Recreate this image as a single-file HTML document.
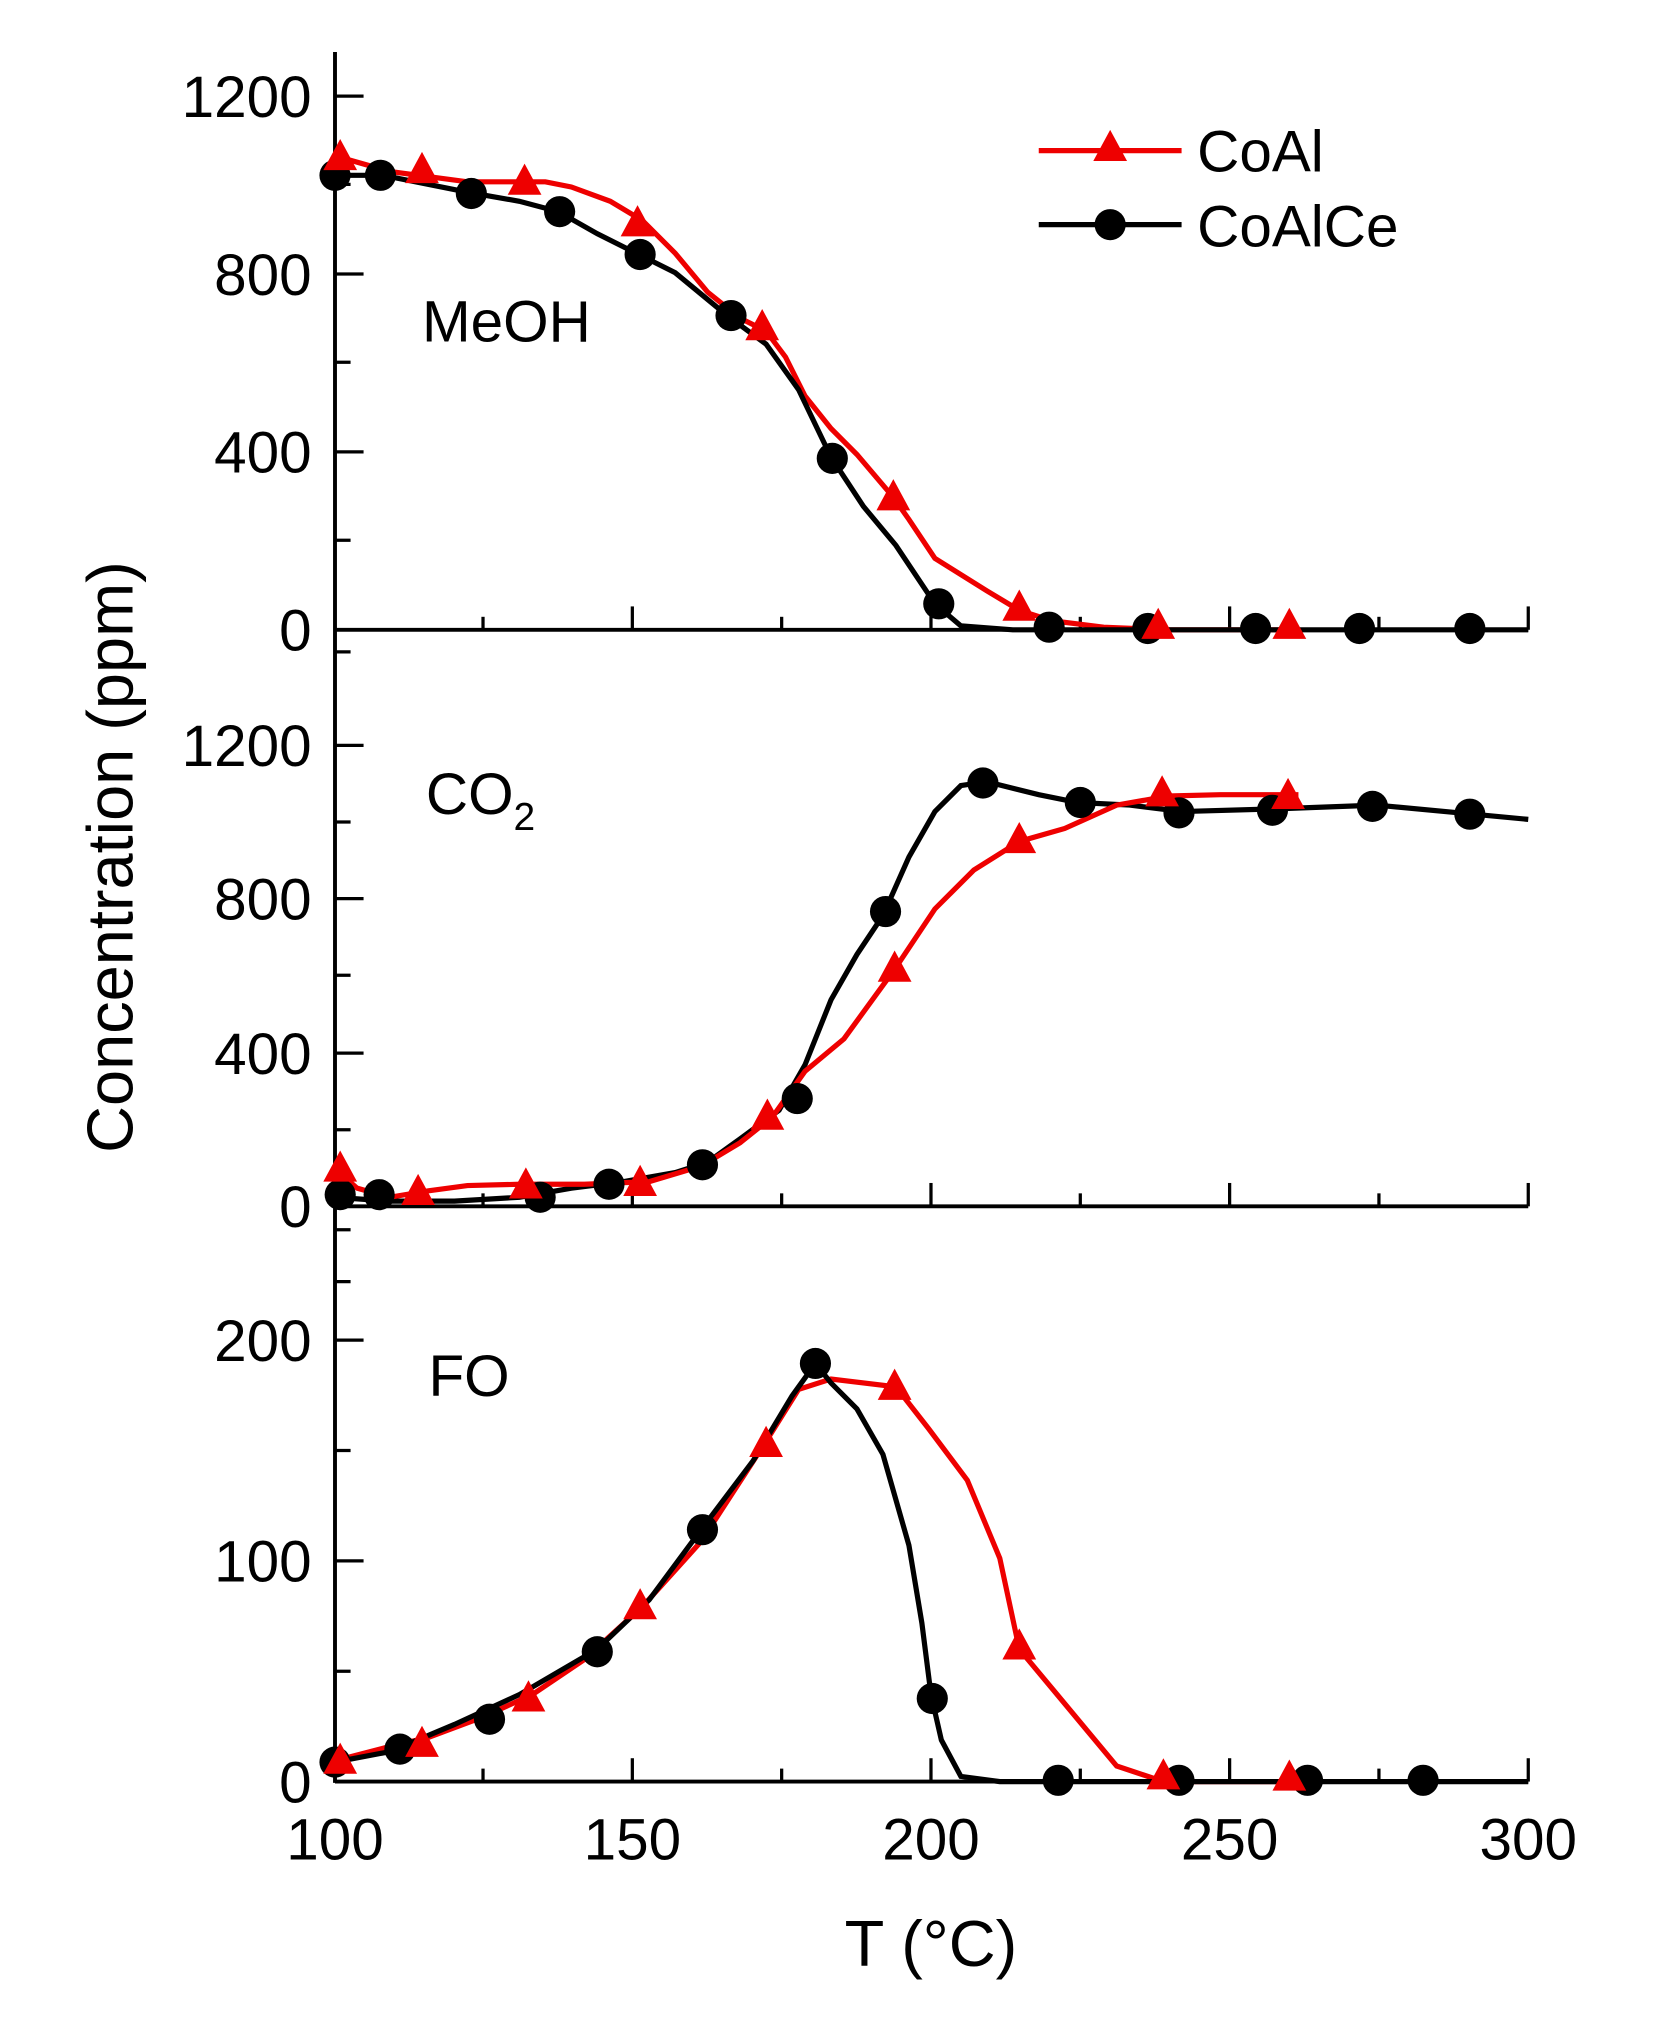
<!DOCTYPE html>
<html><head><meta charset="utf-8"><style>html,body{margin:0;padding:0;background:#fff}svg{display:block}</style></head>
<body>
<svg width="1662" height="2040" viewBox="0 0 1280 1571" preserveAspectRatio="none" xmlns="http://www.w3.org/2000/svg" font-family="Liberation Sans, sans-serif">
<rect width="1280" height="1571" fill="#fff"/>
<g stroke="#000" stroke-width="3" fill="none">
<line x1="258" y1="40" x2="258" y2="1373"/>
<line x1="258" y1="485" x2="1177" y2="485"/>
<line x1="258" y1="929" x2="1177" y2="929"/>
<line x1="258" y1="1372" x2="1177" y2="1372"/>
</g>
<g stroke="#000" stroke-width="2.5">
<line x1="258" y1="74" x2="280" y2="74"/><line x1="258" y1="142" x2="270" y2="142"/>
<line x1="258" y1="211" x2="280" y2="211"/><line x1="258" y1="279" x2="270" y2="279"/>
<line x1="258" y1="348" x2="280" y2="348"/><line x1="258" y1="416" x2="270" y2="416"/>
<line x1="258" y1="502" x2="270" y2="502"/>
<line x1="258" y1="574" x2="280" y2="574"/><line x1="258" y1="633" x2="270" y2="633"/>
<line x1="258" y1="692" x2="280" y2="692"/><line x1="258" y1="751" x2="270" y2="751"/>
<line x1="258" y1="811" x2="280" y2="811"/><line x1="258" y1="870" x2="270" y2="870"/>
<line x1="258" y1="947" x2="270" y2="947"/>
<line x1="258" y1="1032" x2="280" y2="1032"/><line x1="258" y1="1117" x2="270" y2="1117"/>
<line x1="258" y1="1202" x2="280" y2="1202"/><line x1="258" y1="1287" x2="270" y2="1287"/>
<line x1="258" y1="987" x2="270" y2="987"/>
<g id="xt">
<line x1="372" y1="485" x2="372" y2="475"/><line x1="487" y1="485" x2="487" y2="467"/>
<line x1="602" y1="485" x2="602" y2="475"/><line x1="717" y1="485" x2="717" y2="467"/>
<line x1="832" y1="485" x2="832" y2="475"/><line x1="947" y1="485" x2="947" y2="467"/>
<line x1="1062" y1="485" x2="1062" y2="475"/><line x1="1177" y1="485" x2="1177" y2="467"/>
</g>
<use href="#xt" y="444"/>
<use href="#xt" y="887"/>
</g>
<g font-size="45" fill="#000" text-anchor="end">
<text x="240" y="90">1200</text><text x="240" y="227">800</text><text x="240" y="364">400</text><text x="240" y="501">0</text>
<text x="240" y="590">1200</text><text x="240" y="708">800</text><text x="240" y="827">400</text><text x="240" y="945">0</text>
<text x="240" y="1048">200</text><text x="240" y="1218">100</text><text x="240" y="1388">0</text>
</g>
<g font-size="45" fill="#000" text-anchor="middle">
<text x="258" y="1432">100</text><text x="487" y="1432">150</text><text x="717" y="1432">200</text><text x="947" y="1432">250</text><text x="1177" y="1432">300</text>
</g>
<g font-size="50" fill="#000" text-anchor="middle">
<text x="717" y="1514">T (°C)</text>
<text transform="translate(102,660) rotate(-90)">Concentration (ppm)</text>
</g>
<text x="325" y="263" font-size="45">MeOH</text>
<text x="328" y="627" font-size="45">CO<tspan font-size="30" dy="12">2</tspan></text>
<text x="330" y="1075" font-size="45">FO</text>
<polyline fill="none" stroke="#e00" stroke-width="4" points="258,120 300,132 360,140 420,140 440,144 470,155 495,170 520,195 545,225 570,245 590,255 605,275 620,305 640,330 660,350 688,383 700,400 720,430 760,455 785,470 810,478 850,483 900,485 1000,485"/>
<polyline fill="none" stroke="#000" stroke-width="4" points="258,135 295,135 360,148 400,155 430,163 460,180 490,195 520,210 560,243 590,265 615,300 640,352 665,390 690,420 720,465 740,482 780,485 1177,485"/>
<polyline fill="none" stroke="#000" stroke-width="4" points="258,922 300,925 350,925 400,922 440,915 480,910 520,903 545,895 570,877 600,855 620,820 640,770 660,735 680,705 700,660 720,625 740,605 760,602 800,612 830,618 870,620 910,625 980,623 1060,620 1177,631"/>
<polyline fill="none" stroke="#e00" stroke-width="4" points="258,900 275,915 300,922 330,917 360,913 400,912 450,912 500,910 540,898 570,880 595,860 620,825 650,800 690,745 720,700 750,670 785,648 820,638 860,620 900,613 940,612 1000,612"/>
<polyline fill="none" stroke="#e00" stroke-width="4" points="258,1356 300,1345 330,1338 370,1323 410,1305 450,1278 495,1237 540,1187 590,1110 615,1070 640,1062 690,1068 715,1100 745,1140 770,1200 785,1270 810,1300 835,1330 860,1360 890,1370 920,1372 1000,1372"/>
<polyline fill="none" stroke="#000" stroke-width="4" points="258,1357 300,1349 350,1328 400,1305 460,1270 500,1232 540,1178 580,1125 610,1075 628,1050 640,1065 660,1085 680,1120 700,1190 710,1250 717,1305 725,1340 740,1368 770,1372 1177,1372"/>
<g fill="#000">
<circle cx="258" cy="135" r="12"/><circle cx="293" cy="135" r="12"/><circle cx="363" cy="149" r="12"/><circle cx="431" cy="163" r="12"/><circle cx="493" cy="196" r="12"/><circle cx="563" cy="243" r="12"/><circle cx="641" cy="353" r="12"/><circle cx="723" cy="465" r="12"/><circle cx="808" cy="483" r="12"/><circle cx="884" cy="484" r="12"/><circle cx="967" cy="484" r="12"/><circle cx="1047" cy="484" r="12"/><circle cx="1132" cy="484" r="12"/>
<circle cx="262" cy="920" r="12"/><circle cx="292" cy="920" r="12"/><circle cx="416" cy="922" r="12"/><circle cx="469" cy="912" r="12"/><circle cx="541" cy="897" r="12"/><circle cx="614" cy="846" r="12"/><circle cx="682" cy="702" r="12"/><circle cx="757" cy="603" r="12"/><circle cx="832" cy="618" r="12"/><circle cx="908" cy="626" r="12"/><circle cx="980" cy="624" r="12"/><circle cx="1057" cy="621" r="12"/><circle cx="1132" cy="627" r="12"/>
<circle cx="258" cy="1357" r="12"/><circle cx="308" cy="1347" r="12"/><circle cx="377" cy="1324" r="12"/><circle cx="460" cy="1272" r="12"/><circle cx="541" cy="1178" r="12"/><circle cx="628" cy="1050" r="12"/><circle cx="718" cy="1308" r="12"/><circle cx="815" cy="1371" r="12"/><circle cx="908" cy="1371" r="12"/><circle cx="1007" cy="1371" r="12"/><circle cx="1096" cy="1371" r="12"/>
<circle cx="855" cy="173" r="12"/>
</g>
<defs><path id="tri" d="M0,-14 L13,10 L-13,10 Z" fill="#e00"/></defs>
<g>
<use href="#tri" x="262" y="121"/><use href="#tri" x="325" y="131"/><use href="#tri" x="404" y="140"/><use href="#tri" x="491" y="172"/><use href="#tri" x="587" y="252"/><use href="#tri" x="688" y="383"/><use href="#tri" x="785" y="468"/><use href="#tri" x="892" y="482"/><use href="#tri" x="993" y="482"/>
<use href="#tri" x="262" y="900"/><use href="#tri" x="322" y="918"/><use href="#tri" x="405" y="913"/><use href="#tri" x="493" y="911"/><use href="#tri" x="591" y="860"/><use href="#tri" x="689" y="746"/><use href="#tri" x="785" y="647"/><use href="#tri" x="895" y="611"/><use href="#tri" x="992" y="613"/>
<use href="#tri" x="262" y="1356"/><use href="#tri" x="325" y="1343"/><use href="#tri" x="407" y="1308"/><use href="#tri" x="493" y="1237"/><use href="#tri" x="590" y="1112"/><use href="#tri" x="689" y="1068"/><use href="#tri" x="785" y="1268"/><use href="#tri" x="896" y="1368"/><use href="#tri" x="993" y="1369"/>
<use href="#tri" x="855" y="114"/>
</g>
<line x1="800" y1="116" x2="910" y2="116" stroke="#e00" stroke-width="4"/>
<line x1="800" y1="173" x2="910" y2="173" stroke="#000" stroke-width="4"/>
<text x="922" y="132" font-size="45">CoAl</text>
<text x="922" y="190" font-size="45">CoAlCe</text>
</svg>
</body></html>
